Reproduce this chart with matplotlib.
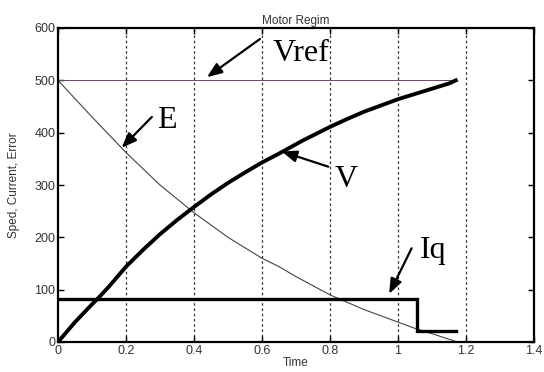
import matplotlib
matplotlib.use("Agg")
import matplotlib.pyplot as plt

# ---- data ----
t_v = [0.0, 0.05, 0.1, 0.117, 0.15, 0.2, 0.25, 0.3, 0.35, 0.4, 0.45, 0.5, 0.55, 0.6, 0.65,
       0.72, 0.8, 0.85, 0.9, 0.95, 1.0, 1.05, 1.1, 1.15, 1.17]
speed_v = [0, 38, 72, 83, 106, 144, 176, 206, 233, 258, 282, 304, 324, 343, 360,
           385, 411, 426, 440, 452, 464, 474, 484, 494, 500]

t_e = [0.0, 0.1, 0.2, 0.3, 0.4, 0.5, 0.6, 0.65, 0.7, 0.8, 0.9, 0.95, 1.0, 1.05, 1.1, 1.174]
error_e = [500, 430, 362, 300, 247, 200, 160, 144, 125, 90, 62, 50, 38, 26, 16, 0]

t_ref = [0.0, 1.17]
vref = [500, 500]

t_iq = [0.0, 1.057, 1.057, 1.17]
iq = [83, 83, 21, 21]

x_ticks = [0, 0.2, 0.4, 0.6, 0.8, 1, 1.2, 1.4]
x_tick_labels = ["0", "0.2", "0.4", "0.6", "0.8", "1", "1.2", "1.4"]
y_ticks = [0, 100, 200, 300, 400, 500, 600]
y_tick_labels = ["0", "100", "200", "300", "400", "500", "600"]

title = "Motor Regim"
xlabel = "Time"
ylabel = "Sped, Current, Error"

# annotations: (label, text position, arrow tail, arrow tip)
annotations = [
    ("Vref", (0.632, 536), (0.594, 579), (0.438, 506)),
    ("E", (0.291, 409), (0.276, 430), (0.187, 371)),
    ("V", (0.815, 297), (0.795, 335), (0.658, 364)),
    ("Iq", (1.065, 161), (1.040, 179), (0.974, 92)),
]

# ---- figure ----
fig = plt.figure(figsize=(5.44, 3.72), dpi=100)
ax = fig.add_axes([58 / 544, 1 - 342 / 372, 476 / 544, 314 / 372])

sans = ["Liberation Sans", "DejaVu Sans"]
serif = ["Liberation Serif", "DejaVu Serif"]

for xv in x_ticks[1:-1]:
    ax.axvline(xv, color="#333333", lw=0.9, dashes=(2, 2.2), zorder=1)

ax.plot(t_ref, vref, color="#6a4a66", lw=0.7, zorder=2)
ax.plot(t_e, error_e, color="#444444", lw=0.8, zorder=2)
ax.plot(t_iq, iq, color="black", lw=2.4, zorder=3, solid_joinstyle="miter")
ax.plot(t_v, speed_v, color="black", lw=2.8, zorder=3)

ax.set_xlim(0, 1.4)
ax.set_ylim(0, 600)
ax.set_xticks(x_ticks)
ax.set_xticklabels(x_tick_labels, family=sans, fontsize=9, color="#333333")
ax.set_yticks(y_ticks)
ax.set_yticklabels(y_tick_labels, family=sans, fontsize=9, color="#333333")
ax.tick_params(direction="in", length=4, width=1, top=True, right=True, pad=2)
for s in ax.spines.values():
    s.set_linewidth(1.6)

ax.set_title(title, family=sans, fontsize=8.5, color="#333333", pad=3)
ax.set_xlabel(xlabel, family=sans, fontsize=8.5, color="#333333", labelpad=0)
ax.set_ylabel(ylabel, family=sans, fontsize=8.5, color="#333333", labelpad=10)

for label, tpos, tail, tip in annotations:
    ax.text(tpos[0], tpos[1], label, family=serif, fontsize=23, color="black",
            ha="left", va="baseline", zorder=5)
    ax.annotate("", xy=tip, xytext=tail,
                arrowprops=dict(arrowstyle="-|>,head_length=0.9,head_width=0.35",
                                color="black", lw=1.6, shrinkA=0, shrinkB=0),
                zorder=5)

# partially visible caption glyph cut by the top edge
fig.text(157 / 544, 1 + 6 / 372, "g", family=serif, fontsize=20, ha="center", va="baseline")

fig.savefig("out.png", dpi=100)
